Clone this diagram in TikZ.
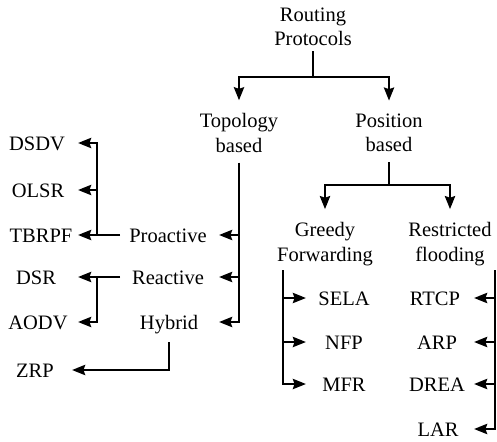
\documentclass[tikz,border=0pt]{standalone}
\usepackage{fontspec}
\setmainfont{Liberation Serif}
\usetikzlibrary{arrows.meta}
\begin{document}
\begin{tikzpicture}[x=1pt,y=-1pt,
  lbl/.style={inner sep=0pt, font=\fontsize{20.5}{24.5}\selectfont, text height=14pt, text depth=0pt},
  ml/.style={inner sep=0pt, font=\fontsize{20.5}{24.5}\selectfont, align=center},
  ln/.style={line width=2.7pt},
  arr/.style={ln, -{Stealth[length=13pt,width=10pt,inset=1.5pt]}}]
\useasboundingbox (0,0) rectangle (497,441);
% columns and rows
\coordinate (cL) at (78,0);
\coordinate (cLv) at (97,0);
\coordinate (cS) at (120,0);
\coordinate (cM) at (219,0);
\coordinate (cZ) at (72,0);
\coordinate (cG) at (283,0);
\coordinate (cGt) at (306,0);
\coordinate (cR) at (495,0);
\coordinate (cRt) at (474,0);
\coordinate (h1) at (0,77);
\coordinate (h2) at (0,185);
\coordinate (rtop) at (0,270);
% nodes
\node[ml] (root) at (313,27) {Routing\\Protocols};
\node[ml] (topo) at (239,133) {Topology\\based};
\node[ml] (pos) at (389,133) {Position\\based};
\node[ml] (greedy) at (325,244) {Greedy\\Forwarding};
\node[ml] (restr) at (450,244) {Restricted\\flooding};
\node[lbl] (dsdv) at (37,143) {DSDV};
\node[lbl] (olsr) at (38,190) {OLSR};
\node[lbl] (tbrpf) at (41,235) {TBRPF};
\node[lbl] (dsr) at (36,277) {DSR};
\node[lbl] (aodv) at (38,322) {AODV};
\node[lbl] (zrp) at (35,370) {ZRP};
\node[lbl] (pro) at (168,235) {Proactive};
\node[lbl] (rea) at (168,277) {Reactive};
\node[lbl] (hyb) at (169,322) {Hybrid};
\node[lbl] (sela) at (344,298) {SELA};
\node[lbl] (nfp) at (344,342) {NFP};
\node[lbl] (mfr) at (344,384) {MFR};
\node[lbl] (rtcp) at (435,298) {RTCP};
\node[lbl] (arp) at (437,342) {ARP};
\node[lbl] (drea) at (437,384) {DREA};
\node[lbl] (lar) at (438,429) {LAR};
% root
\draw[ln] ([yshift=-5pt]root.south) -- (root |- h1);
\draw[arr] (root |- h1) -| ([yshift=13pt]topo.north);
\draw[arr] (root |- h1) -| ([yshift=13pt]pos.north);
% topology
\draw[arr] ([yshift=-10pt]topo.south) |- (cM |- hyb);
\draw[arr] (topo |- pro) -- (cM |- pro);
\draw[arr] (topo |- rea) -- (cM |- rea);
% proactive
\draw[arr] (cS |- pro) -- (cL |- tbrpf);
\draw[arr] (cLv |- tbrpf) -- (cLv |- dsdv) -- (cL |- dsdv);
\draw[arr] (cLv |- olsr) -- (cL |- olsr);
% reactive
\draw[arr] (cS |- rea) -- (cL |- dsr);
\draw[arr] (cLv |- rea) |- (cL |- aodv);
% hybrid
\draw[arr] ([yshift=-13pt]hyb.south) |- (cZ |- zrp);
% position
\draw[ln] ([yshift=-10pt]pos.south) -- (pos |- h2);
\draw[arr] (pos |- h2) -| ([yshift=13pt]greedy.north);
\draw[arr] (pos |- h2) -| ([yshift=13pt]restr.north);
% greedy
\draw[arr] (cG |- rtop) |- (cGt |- mfr);
\draw[arr] (cG |- sela) -- (cGt |- sela);
\draw[arr] (cG |- nfp) -- (cGt |- nfp);
% restricted
\draw[arr] (cR |- rtop) |- (cRt |- lar);
\draw[arr] (cR |- rtcp) -- (cRt |- rtcp);
\draw[arr] (cR |- arp) -- (cRt |- arp);
\draw[arr] (cR |- drea) -- (cRt |- drea);
\end{tikzpicture}
\end{document}
